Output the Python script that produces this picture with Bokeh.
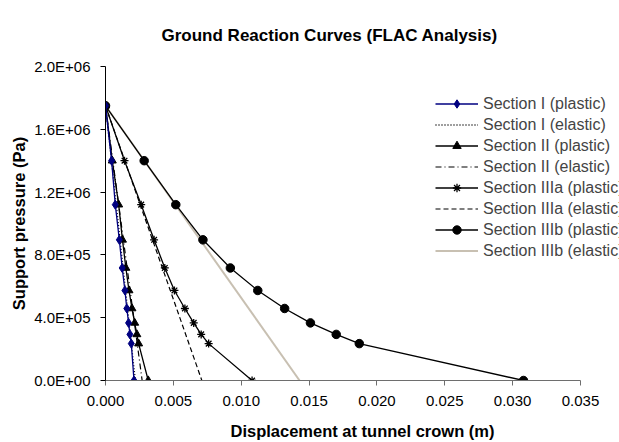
from bokeh.plotting import figure
from bokeh.models import Legend, LegendItem, FixedTicker, Range1d
from bokeh.embed import file_html
from bokeh.resources import INLINE

# ---- data ----
pressure = [1750000, 1400000, 1120000, 896000, 716800, 573440, 458752, 367002, 293601, 234881, 0]

sec1_plastic_x = [0, 0.00045, 0.00072, 0.00102, 0.00123, 0.00143, 0.00157, 0.00170, 0.00180, 0.00190, 0.00210]
sec1_elastic_x = [0, 0.0022]
sec2_plastic_x = [0, 0.00050, 0.00097, 0.00125, 0.00150, 0.00173, 0.00195, 0.00215, 0.00231, 0.00244, 0.00315]
sec2_elastic_x = [0, 0.0027]
sec3a_plastic_x = [0, 0.00140, 0.00263, 0.00358, 0.00437, 0.00508, 0.00585, 0.00650, 0.00705, 0.00760, 0.01080]
sec3a_elastic_x = [0, 0.0071]
sec3b_plastic_x = [0, 0.00285, 0.00518, 0.00718, 0.00920, 0.01122, 0.01320, 0.01510, 0.01700, 0.01870, 0.03080]
sec3b_elastic_x = [0, 0.0143]
elastic_y = [1750000, 0]

x_ticks = [0, 0.005, 0.010, 0.015, 0.020, 0.025, 0.030, 0.035]
x_tick_labels = ["0.000", "0.005", "0.010", "0.015", "0.020", "0.025", "0.030", "0.035"]
y_ticks = [0, 400000, 800000, 1200000, 1600000, 2000000]
y_tick_labels = ["0.0E+00", "4.0E+05", "8.0E+05", "1.2E+06", "1.6E+06", "2.0E+06"]

labels = ["Section I (plastic)", "Section I (elastic)", "Section II (plastic)", "Section II (elastic)",
          "Section IIIa (plastic)", "Section IIIa (elastic)", "Section IIIb (plastic)", "Section IIIb (elastic)"]

FONT = "Liberation Sans"

# plot frame spans to the right edge so the legend can run to the edge;
# the x axis line itself is bounded to 0..0.035
W, H = 619, 442
frame_left, frame_axis_end = 105, 580
x_end = x_ticks[-1] * (W - frame_left) / (frame_axis_end - frame_left)

p = figure(width=W, height=H, output_backend="svg", toolbar_location=None,
           x_range=Range1d(0, x_end), y_range=Range1d(0, y_ticks[-1]),
           title="Ground Reaction Curves (FLAC Analysis)")
p.min_border_left = frame_left
p.min_border_right = 0
p.min_border_top = 66
p.min_border_bottom = 61
p.outline_line_color = None
p.xgrid.visible = False
p.ygrid.visible = False
p.background_fill_color = "white"
p.border_fill_color = "white"

p.title.text_font = FONT
p.title.text_font_size = "17px"
p.title.text_font_style = "bold"
p.title.text_color = "black"
p.title.align = "left"
p.title.offset = 56
p.title.standoff = 44

# axes
xa = p.xaxis[0]
xa.ticker = FixedTicker(ticks=x_ticks)
xa.major_label_overrides = dict(zip(x_ticks, x_tick_labels))
xa.axis_label = "Displacement at tunnel crown (m)"
xa.bounds = (x_ticks[0], x_ticks[-1])
ya = p.yaxis[0]
ya.ticker = FixedTicker(ticks=y_ticks)
ya.major_label_overrides = dict(zip(y_ticks, y_tick_labels))
ya.axis_label = "Support pressure (Pa)"
for ax in (xa, ya):
    ax.minor_tick_line_color = None
    ax.major_tick_in = 0
    ax.major_tick_out = 5
    ax.major_label_text_font = FONT
    ax.major_label_text_font_size = "15px"
    ax.major_label_text_color = "black"
    ax.axis_label_text_font = FONT
    ax.axis_label_text_font_size = "16.5px"
    ax.axis_label_text_font_style = "bold"
    ax.axis_label_text_color = "black"
xa.axis_line_color = "#6e6e6e"
xa.major_tick_line_color = "#6e6e6e"
ya.axis_line_color = "black"
ya.major_tick_line_color = "black"
xa.major_label_standoff = 10
xa.axis_label_standoff = 13
ya.major_label_standoff = 10
ya.axis_label_standoff = 3

items = []

# Section IIIb elastic (drawn first, underneath)
r = p.line(sec3b_elastic_x, elastic_y, line_color="#c8c0b2", line_width=2)
items.append((7, [r]))
# Section IIIb plastic
r1 = p.line(sec3b_plastic_x, pressure, line_color="black", line_width=1.3)
r2 = p.scatter(sec3b_plastic_x, pressure, marker="circle", size=8.5, fill_color="black", line_color="black")
items.append((6, [r1, r2]))
# Section IIIa elastic
r = p.line(sec3a_elastic_x, elastic_y, line_color="black", line_width=1.2, line_dash="5 3")
items.append((5, [r]))
# Section IIIa plastic
r1 = p.line(sec3a_plastic_x, pressure, line_color="black", line_width=1.3)
r2 = p.scatter(sec3a_plastic_x, pressure, marker="asterisk", size=8, line_color="black", line_width=1.3)
items.append((4, [r1, r2]))
# Section II elastic
r = p.line(sec2_elastic_x, elastic_y, line_color="black", line_width=1.2, line_dash="6 3 1 3")
items.append((3, [r]))
# Section II plastic
r1 = p.line(sec2_plastic_x, pressure, line_color="black", line_width=1.3)
r2 = p.scatter(sec2_plastic_x, pressure, marker="triangle", size=8, fill_color="black", line_color="black")
items.append((2, [r1, r2]))
# Section I elastic
r = p.line(sec1_elastic_x, elastic_y, line_color="black", line_width=1.3, line_dash="1 2")
items.append((1, [r]))
# Section I plastic
r1 = p.line(sec1_plastic_x, pressure, line_color="#000080", line_width=1.3)
r2 = p.scatter(sec1_plastic_x, pressure, marker="diamond", size=9, fill_color="#000080", line_color="#000080")
items.append((0, [r1, r2]))

items.sort(key=lambda t: t[0])
legend = Legend(items=[LegendItem(label=labels[i], renderers=rs) for i, rs in items],
                location=(330, 119))
legend.padding = 0
legend.margin = 0
legend.spacing = 0
legend.glyph_width = 43
legend.glyph_height = 21
legend.label_height = 21
legend.label_standoff = 5
legend.label_text_font = FONT
legend.label_text_font_size = "16px"
legend.background_fill_alpha = 0
legend.border_line_alpha = 0
p.add_layout(legend, "center")

open("out.html", "w").write(file_html(p, INLINE))
